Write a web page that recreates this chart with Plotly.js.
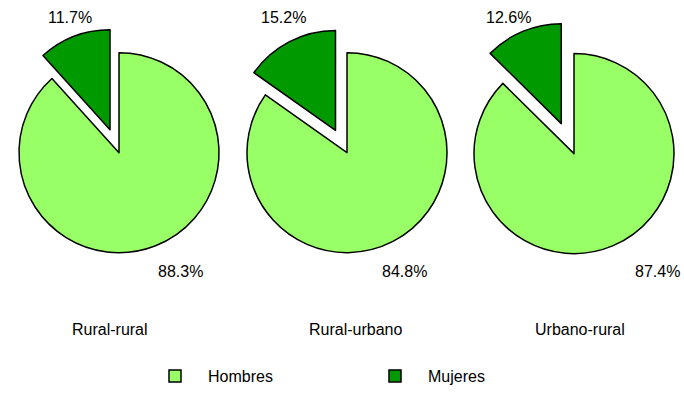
<!DOCTYPE html>
<html>
<head>
<meta charset="utf-8">
<script src="https://cdn.plot.ly/plotly-3.0.1.min.js"></script>
<style>html,body{margin:0;padding:0;background:#fff;}#chart{width:684px;height:393px;}</style>
</head>
<body>
<div id="chart"></div>
<script>
// ---- data ----
const categories = ['Rural-rural', 'Rural-urbano', 'Urbano-rural'];
const sexLabels = ['Hombres', 'Mujeres'];
const hombres = [88.3, 84.8, 87.4];
const mujeres = [11.7, 15.2, 12.6];

// ---- layout constants ----
const W = 684, H = 393, R = 100;
const centers = [[119, 155], [347, 155], [574, 156]];
const pullPx = [25, 25, 33];
const labelX = [110, 355, 580];
const labelY = 335;
const hombresLabelPos = [[180, 276], [405, 276], [657, 276]];
const mujeresLabelPos = [[70, 18], [283, 18], [509, 18]];
const LIGHT = '#99FF66', DARK = '#009900';
const FONT = 'Liberation Sans, Arial, sans-serif';

function dom(cx, cy, hw, hh) {
  return {x: [(cx - hw) / W, (cx + hw) / W], y: [1 - (cy + hh) / H, 1 - (cy - hh) / H]};
}

const traces = [];
const base = {
  type: 'pie', labels: sexLabels, sort: false, direction: 'clockwise', rotation: 0,
  textinfo: 'none', hoverinfo: 'label+value'
};

// middle chart: single trace with pulled slice, also defines the legend
(function () {
  const i = 1, p = pullPx[i] / R;
  traces.push(Object.assign({}, base, {
    values: [hombres[i], mujeres[i]],
    pull: [0, p],
    marker: {colors: [LIGHT, DARK], line: {color: '#000', width: 1.5}},
    domain: dom(centers[i][0], centers[i][1], R * (1 + p), R * (1 + p) + 20),
    showlegend: true
  }));
})();

// left & right charts: base pie + shifted slice
[0, 2].forEach(function (i) {
  const vals = [hombres[i], mujeres[i]];
  const tot = vals[0] + vals[1];
  const mid = 2 * Math.PI * (vals[0] + vals[1] / 2) / tot;
  const dx = pullPx[i] * Math.sin(mid), dy = -pullPx[i] * Math.cos(mid);
  traces.push(Object.assign({}, base, {
    values: vals,
    marker: {colors: [LIGHT, 'rgba(0,0,0,0)'], line: {color: '#000', width: [1.5, 0]}},
    domain: dom(centers[i][0], centers[i][1], R, R + 20),
    showlegend: false
  }));
  traces.push(Object.assign({}, base, {
    values: vals,
    marker: {colors: ['rgba(0,0,0,0)', DARK], line: {color: '#000', width: [0, 1.5]}},
    domain: dom(centers[i][0] + dx, centers[i][1] + dy, R, R + 20),
    showlegend: false
  }));
});

function ann(text, px, py) {
  return {text: text, x: px / W, y: 1 - py / H, xref: 'paper', yref: 'paper',
    xanchor: 'center', yanchor: 'middle', showarrow: false,
    font: {family: FONT, size: 16, color: '#000'}};
}
const annotations = [];
categories.forEach(function (c, i) {
  annotations.push(ann(c, labelX[i], labelY));
  annotations.push(ann(hombres[i].toFixed(1) + '%', hombresLabelPos[i][0], hombresLabelPos[i][1]));
  annotations.push(ann(mujeres[i].toFixed(1) + '%', mujeresLabelPos[i][0], mujeresLabelPos[i][1]));
});

const layout = {
  width: W, height: H,
  margin: {l: 0, r: 0, t: 0, b: 0},
  paper_bgcolor: '#fff', plot_bgcolor: '#fff',
  font: {family: FONT, size: 16, color: '#000'},
  showlegend: true,
  legend: {orientation: 'h', x: 142 / W, xanchor: 'left', y: 1 - 382 / H, yanchor: 'middle',
    itemwidth: 56, entrywidth: 149, font: {family: FONT, size: 16, color: '#000'}, traceorder: 'normal'},
  annotations: annotations
};

Plotly.newPlot('chart', traces, layout, {displayModeBar: false, staticPlot: true});
</script>
</body>
</html>
